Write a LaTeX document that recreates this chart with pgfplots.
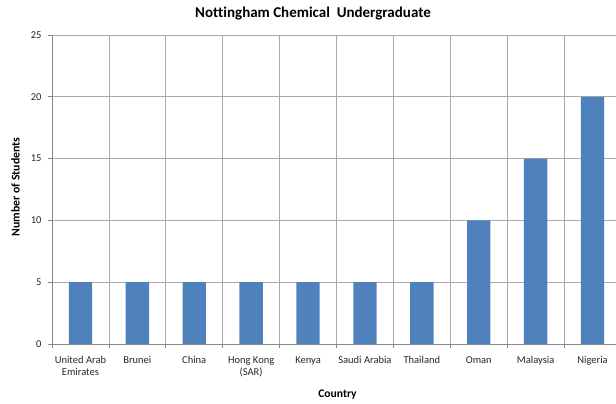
\documentclass[border=0pt]{standalone}
\usepackage{pgfplots}
\pgfplotsset{compat=1.18}
\usepackage{fontspec}
\setmainfont{Carlito}[Ligatures=NoCommon]
\definecolor{barblue}{RGB}{79,129,189}
\definecolor{gridc}{RGB}{170,170,170}
\definecolor{axc}{RGB}{134,134,134}
\begin{document}
\begin{tikzpicture}[x=1pt,y=1pt]
\useasboundingbox (0,0) rectangle (616,404);
\begin{axis}[
  at={(52pt,60pt)}, anchor=south west,
  scale only axis, width=569pt, height=309pt,
  xmin=-0.5, xmax=9.5, ymin=0, ymax=25,
  axis x line*=bottom, axis y line*=left,
  axis line style={-, draw=axc, line width=0.8pt},
  ytick={0,5,...,25},
  ymajorgrids, xminorgrids,
  grid style={draw=gridc, line width=0.8pt},
  minor grid style={draw=gridc, line width=0.8pt},
  xtick={0,...,9},
  xticklabels={{United Arab\\Emirates},Brunei,China,{Hong Kong\\(SAR)},Kenya,{Saudi Arabia},Thailand,Oman,Malaysia,Nigeria},
  minor xtick={-0.5,0.5,...,8.5},
  major x tick style={draw=none},
  minor x tick style={draw=axc, line width=0.8pt},
  major y tick style={draw=axc, line width=0.8pt},
  tick align=outside,
  major tick length=4pt, minor tick length=4pt,
  /pgf/number format/assume math mode=true,
  xticklabel style={font=\fontsize{10.5}{12}\selectfont, align=center, text=black!85, yshift=-5pt},
  yticklabel style={font=\fontsize{10.5}{12}\selectfont, text=black!85, xshift=-3pt},
  clip=false,
]
\addplot[ybar, bar width=0.41, fill=barblue, draw=none] coordinates {
  (0,5) (1,5) (2,5) (3,5) (4,5) (5,5) (6,5) (7,10) (8,15) (9,20)
};
\end{axis}
\node[font=\bfseries\fontsize{15}{17}\selectfont] at (313,390) {Nottingham Chemical\ \ Undergraduate};
\node[font=\bfseries\fontsize{11.8}{13}\selectfont, rotate=90] at (15.5,217) {Number of Students};
\node[font=\bfseries\fontsize{11.6}{13}\selectfont] at (337.5,9.5) {Country};
\end{tikzpicture}
\end{document}
